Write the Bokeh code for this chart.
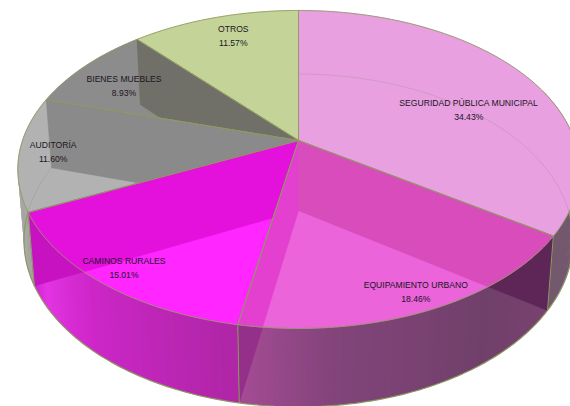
import math
from bokeh.plotting import figure
from bokeh.models import Range1d
from bokeh.core.properties import value
from bokeh.embed import file_html
from bokeh.resources import INLINE

# ---- data ----
categories = ["SEGURIDAD PÚBLICA MUNICIPAL", "EQUIPAMIENTO URBANO", "CAMINOS RURALES",
              "AUDITORÍA", "BIENES MUEBLES", "OTROS"]
shares = [34.43, 18.46, 15.01, 11.60, 8.93, 11.57]

# ---- style ----
face_colors = [(232, 160, 224), (235, 100, 218), (255, 38, 255), (178, 178, 178), (140, 140, 140), (196, 212, 152)]
wall_stops = {
    0: [(0, (115, 90, 110)), (1, (115, 88, 110))],
    1: [(0, (122, 65, 112)), (.32, (112, 64, 106)), (.75, (130, 68, 122)), (1, (165, 75, 150))],
    2: [(0, (175, 38, 165)), (.55, (205, 38, 200)), (.85, (228, 52, 228)), (1, (205, 35, 205))],
    3: [(0, (165, 165, 160)), (1, (170, 170, 165))],
}
under_colors = {0: (94, 38, 86), 1: (148, 48, 138), 2: (198, 18, 192), 3: (150, 150, 145)}
overlays = [(4, 3, (125, 125, 125)), (4, 4, (112, 112, 104)), (3, 3, (138, 138, 138)),
            (2, 2, (228, 16, 220)), (2, 1, (228, 64, 208)), (1, 1, (228, 64, 208)), (0, 1, (216, 76, 188))]
label_polar = [(72.4, .671), (156.7, .911), (217.4, .905), (265.2, .88), (299.5, .777), (340.8, .82)]
EDGE = "#8f9a60"

def proj(theta, r=1.0, lower=False):
    u, v = r * math.sin(math.radians(theta)), r * math.cos(math.radians(theta))
    a, b, k, y0 = (270, 161, .18, 210) if lower else (276, 153.7, .182, 140)
    d = 1 + k * v
    return (298 + a * u / d, y0 - b * v / d)

def hexc(c):
    return "#%02x%02x%02x" % tuple(int(round(x)) for x in c)

def clip(subject, clipper):
    area = sum(clipper[i][0] * clipper[(i + 1) % len(clipper)][1] - clipper[(i + 1) % len(clipper)][0] * clipper[i][1]
               for i in range(len(clipper)))
    sgn = 1 if area > 0 else -1
    out = subject
    for i in range(len(clipper)):
        A, B = clipper[i], clipper[(i + 1) % len(clipper)]
        side = lambda P: sgn * ((B[0] - A[0]) * (P[1] - A[1]) - (B[1] - A[1]) * (P[0] - A[0]))
        inp, out = out, []
        for j in range(len(inp)):
            P, Q = inp[j], inp[(j + 1) % len(inp)]
            sp, sq = side(P), side(Q)
            if sp >= 0:
                out.append(P)
            if sp * sq < 0:
                t = sp / (sp - sq)
                out.append((P[0] + t * (Q[0] - P[0]), P[1] + t * (Q[1] - P[1])))
        if not out:
            return []
    return out

def arc(a0, a1, lower=False, step=1.0):
    n = max(2, int(abs(a1 - a0) / step) + 1)
    return [proj(a0 + (a1 - a0) * i / (n - 1), 1.0, lower) for i in range(n)]

def grad(stops, t):
    for (t0, c0), (t1, c1) in zip(stops, stops[1:]):
        if t <= t1:
            f = (t - t0) / (t1 - t0)
            return tuple(c0[i] + f * (c1[i] - c0[i]) for i in range(3))
    return stops[-1][1]

total = sum(shares)
bounds = [0.0]
for s in shares:
    bounds.append(bounds[-1] + s / total * 360)

APEX = proj(0, 0)
LOW_APEX = proj(0, 0, True)
faces = [[APEX] + arc(bounds[i], bounds[i + 1]) for i in range(len(shares))]
walls = [[proj(bounds[i + 1]), proj(bounds[i + 1], 1, True), LOW_APEX, APEX] for i in range(len(shares))]

p = figure(width=570, height=406, x_range=Range1d(0, 570), y_range=Range1d(406, 0),
           output_backend="svg", toolbar_location=None, min_border=0, outline_line_color=None)
p.axis.visible = False
p.grid.visible = False
p.background_fill_color = "white"
p.border_fill_color = "white"

def poly(pts, color, line=True):
    p.patch([q[0] for q in pts], [q[1] for q in pts], fill_color=color,
            line_color=color if line else None, line_width=.6)

for i, stops in wall_stops.items():
    a0 = max(bounds[i], 70) if i == 0 else bounds[i]
    a1 = bounds[i + 1]
    n = int(a1 - a0) + 1
    for j in range(n):
        t0, t1 = j / n, (j + 1) / n
        b0 = a0 + (a1 - a0) * t0
        b1 = min(a0 + (a1 - a0) * t1 + .7, a1)
        poly([proj(b0), proj(b1), proj(b1, 1, True), proj(b0, 1, True)], hexc(grad(stops, (t0 + t1) / 2)), line=False)

for i in (3, 2, 1, 0):
    poly(walls[i], hexc(under_colors[i]))

low = arc(70, bounds[4], True)
p.line([q[0] for q in low], [q[1] for q in low], line_color=EDGE, line_width=1.2)
p.multi_line([[proj(bounds[i])[0], proj(bounds[i], 1, True)[0]] for i in range(1, 4)],
             [[proj(bounds[i])[1], proj(bounds[i], 1, True)[1]] for i in range(1, 4)],
             line_color=EDGE, line_width=1)

for f, c in zip(faces, face_colors):
    poly(f, hexc(c))

for w, f, c in overlays:
    pts = clip(walls[w], faces[f])
    if pts:
        poly(pts, hexc(c))

# lower rim seen through the Seguridad and Auditoría faces only
for a0, a1 in ((bounds[0], bounds[1]), (bounds[3], bounds[4])):
    back = arc(a0, a1, True)
    p.line([q[0] for q in back], [q[1] for q in back], line_color="#9a8a90", line_alpha=.3, line_width=1)

for f in faces:
    xs = [q[0] for q in f] + [f[0][0]]
    ys = [q[1] for q in f] + [f[0][1]]
    p.line(xs, ys, line_color=EDGE, line_width=1, line_alpha=.85)

pos = [proj(a, r) for a, r in label_polar]
xs = [q[0] for q in pos]
ys = [q[1] for q in pos]
common = dict(text_font=value("Liberation Sans"), text_font_size="8.6px", text_align="center",
              text_baseline="middle", text_color="#20141f")
p.text(xs, ys, text=categories, y_offset=-7, **common)
p.text(xs, ys, text=["%.2f%%" % s for s in shares], y_offset=7, **common)

open("out.html", "w").write(file_html(p, INLINE))
